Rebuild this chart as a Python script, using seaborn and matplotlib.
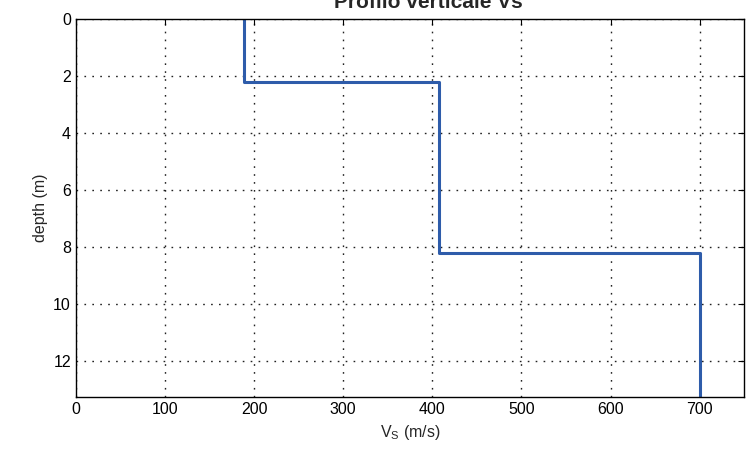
import numpy as np
import pandas as pd
import matplotlib
matplotlib.use("Agg")
import matplotlib.pyplot as plt
import seaborn as sns

# layer profile
vs = [189, 408, 700]
z_top = [0.0, 2.2, 8.2]
z_bot = [2.2, 8.2, 13.2]
x_ticks = [0, 100, 200, 300, 400, 500, 600, 700]
y_ticks = [0, 2, 4, 6, 8, 10, 12]

# build the step line from the layers
xs, zs = [], []
for v, a, b in zip(vs, z_top, z_bot):
    xs += [v, v]
    zs += [a, b]
df = pd.DataFrame({"vs": xs, "depth": zs})

sns.set_style("white")
plt.rcParams["font.family"] = ["Liberation Sans", "DejaVu Sans"]
plt.rcParams["lines.scale_dashes"] = False

fig = plt.figure(figsize=(7.51, 4.57), dpi=100)
ax = fig.add_axes([0.101, 0.131, 0.890, 0.827])

sns.lineplot(data=df, x="vs", y="depth", sort=False, estimator=None,
             color="#2E5CAA", linewidth=2.2, ax=ax)

ax.set_xlim(0, 750)
ax.set_ylim(13.25, 0)
ax.set_xticks(x_ticks)
ax.set_yticks(y_ticks)
ax.grid(True, linestyle=(0, (1.2, 4.5)), color="#222222", linewidth=1.0)
ax.tick_params(direction="in", top=True, right=True, length=4, labelsize=11.5, colors="black")
for s in ax.spines.values():
    s.set_color("black")
    s.set_linewidth(1.0)

ax.set_xlabel("V$_\\mathregular{S}$ (m/s)", fontsize=11.5)
ax.set_ylabel("depth (m)", fontsize=11.5)
fig.text(0.57, 0.983, "Profilo verticale Vs", ha="center", va="baseline",
         fontsize=15, fontweight="bold")

fig.savefig("out.png", dpi=100)
